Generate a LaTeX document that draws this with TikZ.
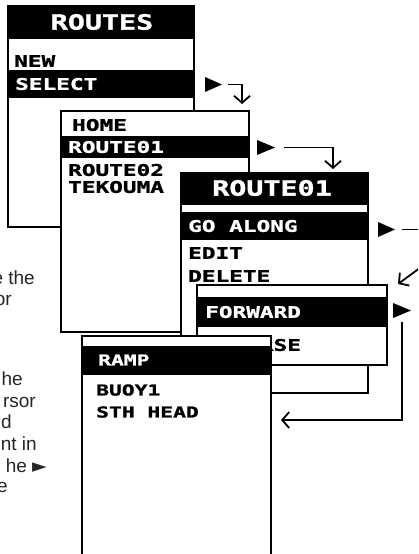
\documentclass[tikz,border=0pt]{standalone}
\usepackage{fontspec}
\setmainfont{Liberation Sans}
\newfontfamily\lcd[FakeStretch=1.42,FakeBold=1.3]{DejaVu Sans Mono Bold}
\newfontfamily\lcdt[FakeStretch=1.35,FakeBold=1.5]{DejaVu Sans Mono Bold}
\newfontfamily\symf{DejaVu Sans}
\usetikzlibrary{arrows.meta}
\begin{document}
\begin{tikzpicture}[x=1pt,y=-1pt,
  frame/.style={draw=black,line width=2.8pt},
  bg/.style={fill=white},
  bar/.style={fill=black},
  item/.style={anchor=west,inner sep=0pt,font=\lcd\fontsize{16}{16}\selectfont},
  sel/.style={item,text=white},
  small/.style={item,font=\lcd\fontsize{15}{15}\selectfont},
  smallsel/.style={small,text=white},
  ttl/.style={inner sep=0pt,text=white,font=\lcdt\fontsize{21}{21}\selectfont},
  conn/.style={line width=1.8pt},
  tip/.style={-{Straight Barb[length=7pt,width=16pt,line width=1.8pt]}},
  ptr/.style={fill=black},
  frag/.style={anchor=base east,inner sep=0pt,text=black!85,font=\fontsize{19}{22}\selectfont}
]
\useasboundingbox (0,0) rectangle (418,554);
\clip (0,0) rectangle (418,554);

% left text fragments
\node[frag] (f1) at (35,284) {e the};
\node[frag] (f2) at (12,305) {or};
\node[frag] (f3) at (23,385) {he};
\node[frag] (f4) at (36,407) {rsor};
\node[frag] (f5) at (12,428) {d};
\node[frag] (f6) at (37,450) {nt in};
\node[frag] (f7) at (47,472) {he {\symf ►}};
\node[frag] (f8) at (8,492) {e};

% screen 1: ROUTES
\fill[bg] (8,6) rectangle (194,227);
\fill[bar] (8,6) rectangle (194,39);
\fill[bar] (8,70) rectangle (194,98);
\draw[frame] (8,6) rectangle (194,227);
\node[ttl] (s1t) at (102,22) {ROUTES};
\node[item] (s1a) at (14,61) {NEW};
\node[sel] (s1b) at (15,84) {SELECT};

% screen 2: route list
\fill[bg] (61,111) rectangle (249,332);
\fill[bar] (61,136) rectangle (249,158);
\draw[frame] (61,111) rectangle (249,332);
\node[item] (s2a) at (72,125) {HOME};
\node[sel] (s2b) at (68,147) {ROUTE01};
\node[item] (s2c) at (68,170) {ROUTE02};
\node[item] (s2d) at (68,187) {TEKOUMA};

% screen 3: ROUTE01
\fill[bg] (181,173) rectangle (368,393);
\fill[bar] (181,173) rectangle (368,205);
\fill[bar] (181,212) rectangle (368,240);
\draw[frame] (181,173) rectangle (368,393);
\node[ttl] (s3t) at (272,188) {ROUTE01};
\node[sel] (s3a) at (188,226) {GO ALONG};
\node[item] (s3b) at (188,253) {EDIT};
\node[item] (s3c) at (188,276) {DELETE};

% screen 4: direction
\fill[bg] (197,285) rectangle (387,365);
\fill[bar] (197,297) rectangle (387,327);
\draw[frame] (197,285) rectangle (387,365);
\node[sel] (s4a) at (205,312) {FORWARD};
\node[item] (s4b) at (205,345) {REVERSE};

% screen 5: waypoints
\fill[bg] (82,336) rectangle (271,580);
\fill[bar] (82,346) rectangle (271,375);
\draw[frame] (82,336) rectangle (271,580);
\node[smallsel] (s5a) at (98,360) {RAMP};
\node[small] (s5b) at (96,390) {BUOY1};
\node[small] (s5c) at (96,412) {STH HEAD};

% pointers and connectors
\fill[ptr] (205,77) -- (222,84.5) -- (205,92) -- cycle;
\coordinate (a1s) at (228,84.5);
\coordinate (a1e) at (242,104);
\draw[conn,tip] (a1s) -| (a1e);

\fill[ptr] (257,140) -- (275,147.5) -- (257,155) -- cycle;
\coordinate (a2s) at (284,147.5);
\coordinate (a2e) at (333,169);
\draw[conn,tip] (a2s) -| (a2e);

\fill[ptr] (378,222) -- (395,229.5) -- (378,237) -- cycle;
\coordinate (a3s) at (402,229.5);
\coordinate (a3e) at (425,229.5);
\draw[conn] (a3s) -- (a3e);

\coordinate (a4s) at (428,262);
\coordinate (a4e) at (398,284);
\draw[conn,tip] (a4s) -- (a4e);

\fill[ptr] (393,303) -- (411,310.5) -- (393,318) -- cycle;
\coordinate (a5s) at (402,322);
\coordinate (a5e) at (281,420);
\draw[conn,tip] (a5s) |- (a5e);
\end{tikzpicture}
\end{document}
